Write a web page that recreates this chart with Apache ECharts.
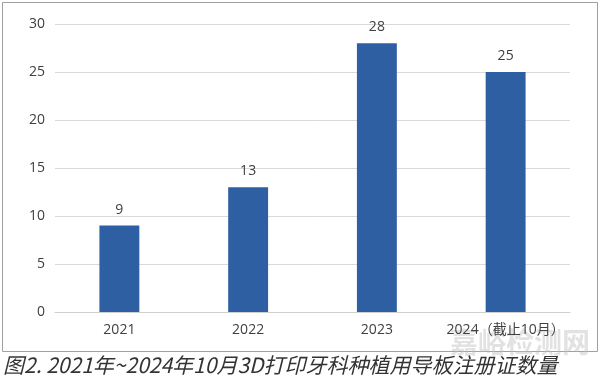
<!DOCTYPE html>
<html><head><meta charset="utf-8">
<script src="https://cdn.jsdelivr.net/npm/echarts@6/dist/echarts.min.js"></script>
<style>html,body{margin:0;padding:0;background:#fff}#c{width:600px;height:382px}</style>
</head><body><div id="c"></div>
<script>
const categories = ['2021', '2022', '2023', '2024（截止10月）'];
const values = [9, 13, 28, 25];
const yTicks = [0, 5, 10, 15, 20, 25, 30];
const caption = '图2. 2021年~2024年10月3D打印牙科种植用导板注册证数量';

const chart = echarts.init(document.getElementById('c'), null, {renderer: 'canvas'});
chart.setOption({
  animation: false,
  backgroundColor: '#fff',
  grid: {left: 55, right: 30, top: 24, bottom: 70, containLabel: false},
  xAxis: {
    type: 'category', data: categories,
    axisLine: {show: true, lineStyle: {color: '#d0d0d0'}},
    axisTick: {show: false},
    axisLabel: {interval: 0, color: '#404040', fontSize: 14, fontFamily: 'Open Sans, Noto Sans CJK SC', margin: 11}
  },
  yAxis: {
    type: 'value', min: yTicks[0], max: yTicks[yTicks.length - 1], interval: 5,
    axisLine: {show: false}, axisTick: {show: false},
    splitLine: {lineStyle: {color: '#d9d9d9'}},
    axisLabel: {color: '#404040', fontSize: 14, fontFamily: 'Open Sans', margin: 10}
  },
  series: [{
    type: 'bar', data: values, barWidth: '31%',
    itemStyle: {color: '#2e5fa3'},
    label: {show: true, position: 'top', distance: 9, color: '#404040', fontSize: 14, fontFamily: 'Open Sans'}
  }],
  graphic: [
    {type: 'rect', shape: {x: 2.5, y: 2.5, width: 595, height: 349}, style: {fill: 'none', stroke: '#a0a0a0', lineWidth: 1}, z: -1},
    {type: 'text', left: 450, top: 328, style: {text: '嘉峪检测网', fill: 'rgba(190,190,190,0.45)', font: 'bold 28px "Noto Sans CJK SC"'}},
    {type: 'text', left: 3, top: 355, style: {text: caption, fill: '#333', font: 'italic 21px "Noto Sans CJK SC", "Open Sans"'}}
  ]
});
</script></body></html>
